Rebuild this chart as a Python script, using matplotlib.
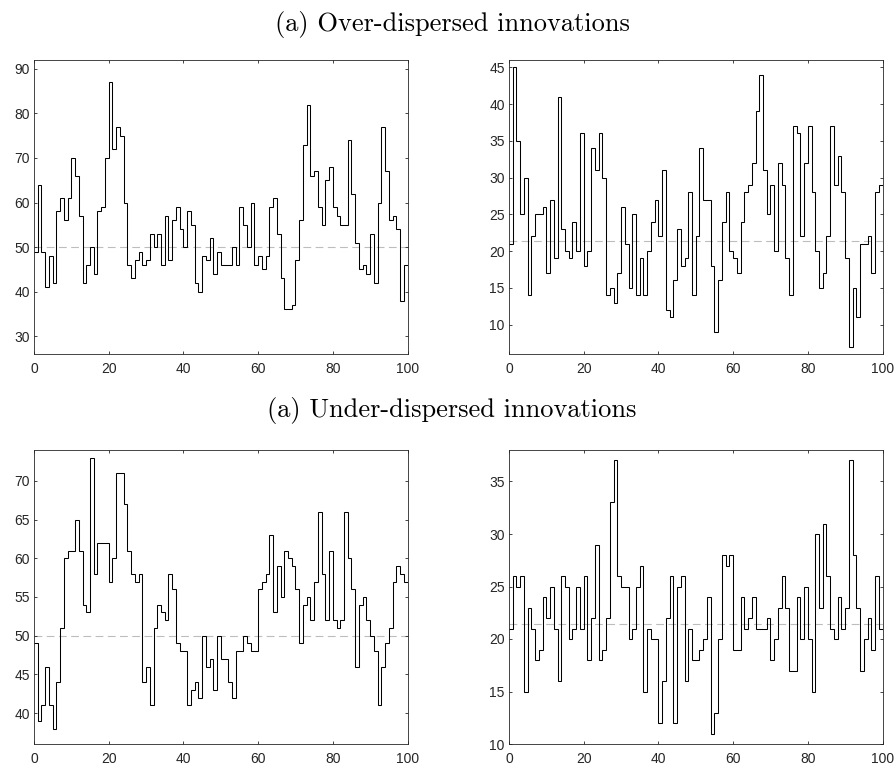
import numpy as np
import matplotlib
matplotlib.use("Agg")
import matplotlib.pyplot as plt

# values, one per time step 0..99
over_left = [49, 64, 49, 41, 48, 42, 58, 61, 56, 61,
             70, 66, 57, 42, 46, 50, 44, 58, 59, 70,
             87, 72, 77, 75, 60, 46, 43, 47, 49, 46,
             47, 53, 50, 53, 46, 57, 47, 56, 59, 54,
             50, 58, 55, 42, 40, 48, 47, 52, 44, 49,
             46, 46, 46, 50, 46, 59, 55, 50, 60, 46,
             48, 45, 48, 59, 61, 53, 43, 36, 36, 37,
             47, 56, 73, 82, 66, 67, 59, 55, 65, 68,
             59, 57, 55, 55, 74, 62, 51, 45, 46, 44,
             53, 42, 60, 77, 67, 56, 57, 54, 38, 46]

over_right = [21, 45, 35, 25, 30, 14, 22, 25, 25, 26,
              17, 27, 19, 41, 23, 20, 19, 24, 20, 36,
              18, 20, 34, 31, 36, 30, 14, 15, 13, 17,
              26, 21, 15, 25, 14, 19, 14, 20, 24, 27,
              22, 31, 12, 11, 16, 23, 18, 19, 28, 14,
              22, 34, 27, 27, 18, 9, 16, 24, 28, 20,
              19, 17, 24, 28, 29, 32, 39, 44, 31, 25,
              29, 20, 32, 29, 19, 14, 37, 36, 22, 32,
              37, 28, 20, 15, 17, 22, 37, 29, 33, 28,
              19, 7, 15, 11, 21, 21, 22, 17, 28, 29]

under_left = [49, 39, 41, 46, 41, 38, 44, 51, 60, 61,
              61, 65, 61, 54, 53, 73, 58, 62, 62, 62,
              57, 60, 71, 71, 67, 61, 58, 57, 58, 44,
              46, 41, 51, 54, 53, 52, 58, 56, 49, 48,
              48, 41, 43, 44, 42, 50, 46, 47, 43, 50,
              47, 47, 44, 42, 48, 48, 50, 49, 48, 48,
              56, 57, 58, 63, 53, 59, 55, 61, 60, 59,
              56, 49, 54, 55, 52, 57, 66, 58, 52, 61,
              52, 51, 52, 66, 60, 56, 46, 54, 55, 52,
              50, 48, 41, 46, 49, 51, 57, 59, 58, 57]

under_right = [21, 26, 25, 26, 15, 23, 21, 18, 19, 24,
               22, 25, 21, 16, 26, 25, 20, 21, 25, 21,
               26, 18, 22, 29, 18, 19, 22, 33, 37, 26,
               25, 25, 20, 21, 25, 27, 15, 21, 20, 20,
               12, 16, 22, 26, 12, 25, 26, 16, 21, 18,
               18, 19, 20, 24, 11, 13, 20, 28, 27, 28,
               19, 19, 24, 21, 22, 24, 21, 21, 21, 22,
               18, 20, 23, 26, 23, 17, 17, 24, 20, 25,
               20, 15, 30, 23, 31, 26, 21, 20, 24, 21,
               23, 37, 28, 23, 17, 20, 22, 19, 26, 21]

means = [50, 21.4, 50, 21.4]
titles = ["(a) Over-dispersed innovations", "(a) Under-dispersed innovations"]
ylims = [(26, 92), (6, 46), (36, 74), (10, 38)]
yticks = [np.arange(30, 91, 10), np.arange(10, 46, 5),
          np.arange(40, 71, 5), np.arange(10, 36, 5)]

W, H = 896, 774
fig = plt.figure(figsize=(W / 100, H / 100), dpi=100)

# axes boxes in pixels: left, top, right, bottom
boxes = [(34, 60, 407.5, 354), (509, 60, 882.5, 354),
         (34, 450, 407.5, 744), (509, 450, 882.5, 744)]

series = [over_left, over_right, under_left, under_right]
edges = np.arange(101)
axcol = "#262626"

for i, (l, t, r, b) in enumerate(boxes):
    ax = fig.add_axes([l / W, 1 - b / H, (r - l) / W, (b - t) / H])
    ax.axhline(means[i], color="#bdbdbd", lw=0.8, dashes=(7, 4), zorder=1)
    ax.stairs(series[i], edges, baseline=None, color="black", lw=0.75, zorder=2)
    ax.set_xlim(0, 100)
    ax.set_ylim(*ylims[i])
    ax.set_xticks(np.arange(0, 101, 20))
    ax.set_yticks(yticks[i])
    ax.tick_params(direction="in", top=True, right=True, length=2.5,
                   width=0.6, color=axcol, labelcolor=axcol, labelsize=10)
    ax.tick_params(axis="x", pad=5.5)
    ax.tick_params(axis="y", pad=3)
    for lab in ax.get_xticklabels() + ax.get_yticklabels():
        lab.set_family("Liberation Sans")
    for s in ax.spines.values():
        s.set_color(axcol)
        s.set_linewidth(0.6)

fig.text(452 / W, 1 - 25 / H, titles[0], ha="center", va="center",
         family="cmr10", fontsize=19)
fig.text(452 / W, 1 - 410 / H, titles[1], ha="center", va="center",
         family="cmr10", fontsize=19)

fig.savefig("out.png", dpi=100)
